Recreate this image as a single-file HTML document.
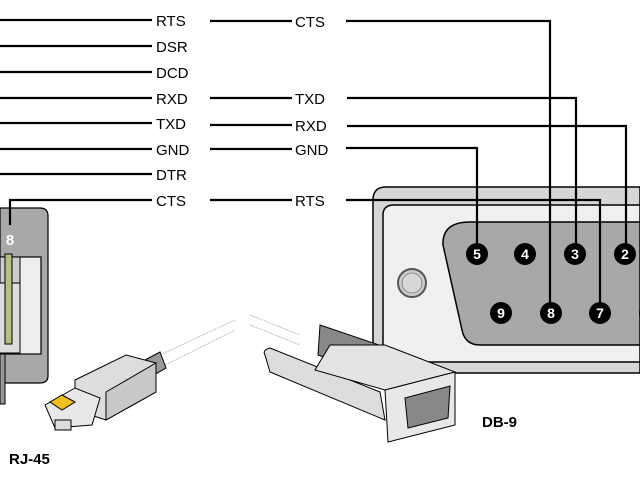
<!DOCTYPE html>
<html><head><style>html,body{margin:0;padding:0;background:#fff;width:640px;height:480px;overflow:hidden}</style></head>
<body>
<svg width="640" height="480" xmlns="http://www.w3.org/2000/svg" font-family="Liberation Sans, sans-serif">
<rect width="640" height="480" fill="#fff"/>
<!-- DB-9 panel -->
<path d="M373,200 Q373,187 386,187 L640,187 L640,373 L373,373 Z" fill="#d6d6d6" stroke="#000" stroke-width="1.5"/>
<path d="M383,215 Q383,205 394,205 L640,205 L640,362 L383,362 Z" fill="#f0f0f0" stroke="#000" stroke-width="1.5"/>
<path d="M470,222 L640,222 L640,345 L480,345 Q465,345 462,330 L443,245 Q442,222 470,222 Z" fill="#a8a8a8" stroke="#000" stroke-width="1.5"/>
<circle cx="412" cy="283" r="14" fill="#ccc" stroke="#555" stroke-width="2"/>
<circle cx="412" cy="283" r="10" fill="#d8d8d8" stroke="#888" stroke-width="1"/>
<!-- RJ-45 panel -->
<path d="M0,208 L40,208 Q48,208 48,216 L48,376 Q48,383 40,383 L0,383 Z" fill="#a8a8a8" stroke="#000" stroke-width="1.2"/>
<rect x="0" y="257" width="41" height="97" fill="#eee" stroke="#000" stroke-width="1.2"/>
<rect x="0" y="257" width="20" height="97" fill="#ccc" stroke="#000" stroke-width="1"/>
<rect x="-1" y="283" width="21" height="70" fill="#ddd" stroke="#000" stroke-width="1"/>
<rect x="5" y="254" width="7" height="90" fill="#b8c080" stroke="#000" stroke-width="1"/>
<rect x="0" y="354" width="5" height="50" fill="#999" stroke="#000"/>
<text x="10" y="245" fill="#fff" font-size="15" font-weight="bold" text-anchor="middle">8</text>
<!-- wires -->
<g stroke="#000" stroke-width="2.2" fill="none">
<line x1="0" y1="20" x2="152" y2="20"/><line x1="0" y1="46" x2="152" y2="46"/>
<line x1="0" y1="72" x2="152" y2="72"/><line x1="0" y1="98" x2="152" y2="98"/>
<line x1="0" y1="123" x2="152" y2="123"/><line x1="0" y1="149" x2="152" y2="149"/>
<line x1="0" y1="174" x2="152" y2="174"/>
<polyline points="10,225 10,200 152,200"/>
<line x1="210" y1="21" x2="292" y2="21"/><line x1="210" y1="98" x2="292" y2="98"/>
<line x1="210" y1="125" x2="292" y2="125"/><line x1="210" y1="149" x2="292" y2="149"/>
<line x1="210" y1="200" x2="292" y2="200"/>
<polyline points="346,21 550,21 550,305"/>
<polyline points="347,98 576,98 576,246"/>
<polyline points="347,126 626,126 626,246"/>
<polyline points="346,148 477,148 477,246"/>
<polyline points="346,200 600,200 600,305"/>
</g>
<g font-size="15" fill="#000">
<text x="156" y="26">RTS</text><text x="156" y="52">DSR</text><text x="156" y="78">DCD</text>
<text x="156" y="104">RXD</text><text x="156" y="129">TXD</text><text x="156" y="155">GND</text>
<text x="156" y="180">DTR</text><text x="156" y="206">CTS</text>
<text x="295" y="27">CTS</text><text x="295" y="104">TXD</text><text x="295" y="131">RXD</text>
<text x="295" y="155">GND</text><text x="295" y="206">RTS</text>
</g>
<!-- pins -->
<g font-size="14" font-weight="bold" fill="#fff" text-anchor="middle">
<circle cx="477" cy="254" r="11" fill="#000"/><text x="477" y="259">5</text>
<circle cx="525" cy="254" r="11" fill="#000"/><text x="525" y="259">4</text>
<circle cx="575" cy="254" r="11" fill="#000"/><text x="575" y="259">3</text>
<circle cx="625" cy="254" r="11" fill="#000"/><text x="625" y="259">2</text>
<circle cx="501" cy="313" r="11" fill="#000"/><text x="501" y="318">9</text>
<circle cx="551" cy="313" r="11" fill="#000"/><text x="551" y="318">8</text>
<circle cx="600" cy="313" r="11" fill="#000"/><text x="600" y="318">7</text>
<circle cx="650" cy="313" r="11" fill="#000"/>
</g>
<!-- RJ45 plug -->
<line x1="160" y1="355" x2="235" y2="320" stroke="#bbb" stroke-width="1" stroke-dasharray="2,1"/>
<line x1="165" y1="365" x2="235" y2="330" stroke="#bbb" stroke-width="1" stroke-dasharray="2,1"/>
<path d="M145,360 L160,352 L166,368 L152,376 Z" fill="#999" stroke="#000"/>
<path d="M75,380 L126,355 L156,363 L156,392 L106,420 L75,410 Z" fill="#ddd" stroke="#000"/>
<path d="M106,392 L156,363 L156,392 L106,420 Z" fill="#c8c8c8" stroke="#000"/>
<path d="M45,405 L75,388 L100,398 L92,425 L55,428 Z" fill="#e8e8e8" stroke="#000"/>
<path d="M50,402 L62,395 L75,402 L62,410 Z" fill="#f0c020" stroke="#000"/>
<rect x="55" y="420" width="16" height="10" fill="#ddd" stroke="#000"/>
<text x="9" y="464" font-size="15" font-weight="bold">RJ-45</text>
<!-- DB9 plug -->
<line x1="250" y1="315" x2="300" y2="335" stroke="#bbb" stroke-dasharray="2,1"/>
<line x1="250" y1="325" x2="300" y2="345" stroke="#bbb" stroke-dasharray="2,1"/>
<path d="M320,325 L388,348 L388,380 L318,355 Z" fill="#888" stroke="#000"/>
<path d="M265,355 Q262,350 270,348 L380,392 L385,420 L270,372 Z" fill="#ddd" stroke="#000"/>
<path d="M330,345 L385,345 L455,372 L385,390 L315,370 Z" fill="#e4e4e4" stroke="#000"/>
<path d="M385,390 L455,372 L455,425 L388,442 Z" fill="#e8e8e8" stroke="#000"/>
<path d="M405,398 L450,386 L448,418 L408,428 Z" fill="#888" stroke="#000"/>
<text x="482" y="427" font-size="15" font-weight="bold">DB-9</text>
</svg>
</body></html>
